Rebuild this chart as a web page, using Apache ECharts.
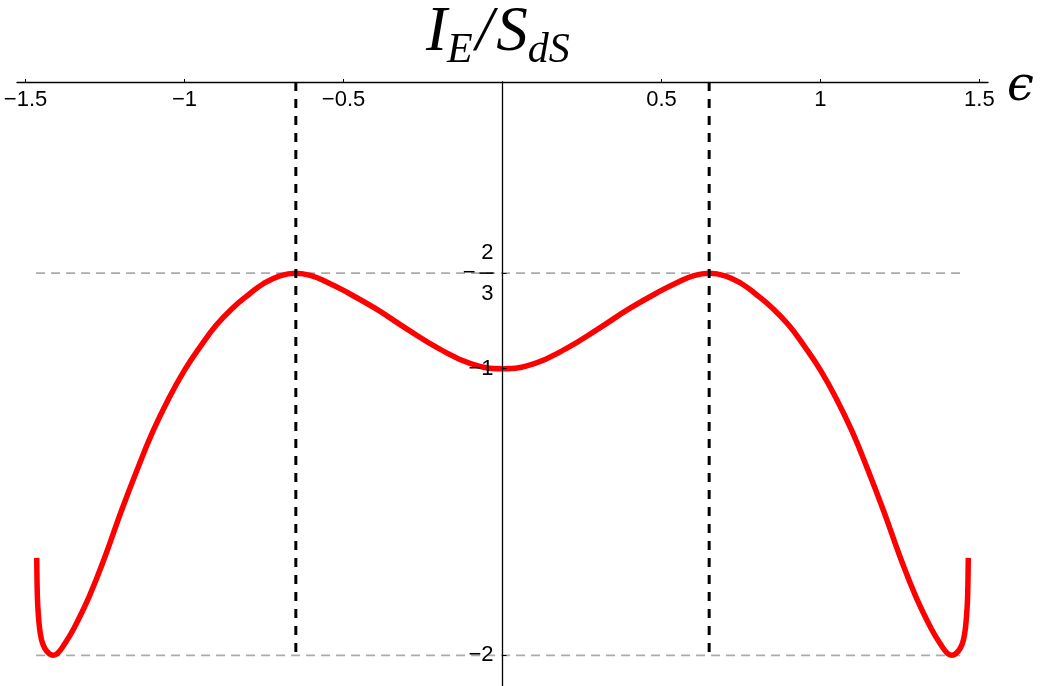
<!DOCTYPE html>
<html>
<head>
<meta charset="utf-8">
<script src="https://cdn.jsdelivr.net/npm/echarts@6/dist/echarts.min.js"></script>
<style>
html,body{margin:0;padding:0;background:#fff;}
#chart{width:1042px;height:686px;}
</style>
</head>
<body>
<div id="chart"></div>
<script>
// curve samples: epsilon and I_E/S_dS
var epsValues = [-1.465,-1.464,-1.462,-1.457,-1.450,-1.440,-1.425,-1.413,-1.400,-1.380,-1.350,-1.300,-1.250,-1.200,-1.150,-1.100,-1.050,-1.000,-0.950,-0.900,-0.850,-0.800,-0.750,-0.700,-0.650,-0.600,-0.550,-0.500,-0.400,-0.300,-0.200,-0.100,0.000,
                 0.100,0.200,0.300,0.400,0.500,0.550,0.600,0.650,0.700,0.750,0.800,0.850,0.900,0.950,1.000,1.050,1.100,1.150,1.200,1.250,1.300,1.350,1.380,1.400,1.413,1.425,1.440,1.450,1.457,1.462,1.464,1.465];
var ieValues  = [-1.660,-1.740,-1.820,-1.895,-1.945,-1.975,-1.995,-2.000,-1.994,-1.965,-1.910,-1.795,-1.655,-1.500,-1.355,-1.220,-1.105,-1.005,-0.922,-0.848,-0.790,-0.743,-0.702,-0.676,-0.667,-0.676,-0.699,-0.727,-0.790,-0.862,-0.930,-0.982,-1.000,
                 -0.982,-0.930,-0.862,-0.790,-0.727,-0.699,-0.676,-0.667,-0.676,-0.702,-0.743,-0.790,-0.848,-0.922,-1.005,-1.105,-1.220,-1.355,-1.500,-1.655,-1.795,-1.910,-1.965,-1.994,-2.000,-1.995,-1.975,-1.945,-1.895,-1.820,-1.740,-1.660];
// reference lines
var extremaEps = [-0.65, 0.65];          // vertical dashed lines
var vLineRange = [0, -2];
var hLineLevels = [-2/3, -2];            // horizontal gray dashed lines
var hLineRange = [-1.467, 1.44];
// ticks
var xTicks = [-1.5, -1, -0.5, 0.5, 1, 1.5];
var yTicks = [-2, -1, -2/3];
var xRange = [-1.527, 1.527];
var yRange = [-2.107, 0];

var curve = epsValues.map(function (e, i) { return [e, ieValues[i]]; });

function fmtNum(v) {
  var s = String(Math.round(v * 1000) / 1000);
  return s.replace('-', '\u2212');
}

var series = [];
hLineLevels.forEach(function (lv) {
  series.push({
    type: 'line', data: [[hLineRange[0], lv], [hLineRange[1], lv]],
    symbol: 'none', silent: true, z: 1,
    lineStyle: { color: '#ababab', width: 1.6, type: [9, 6] }
  });
});
series.push({
  type: 'line', data: curve, symbol: 'none', smooth: 0.45, z: 2,
  lineStyle: { color: '#ff0000', width: 5.5 }
});
extremaEps.forEach(function (e) {
  series.push({
    type: 'line', data: [[e, vLineRange[0]], [e, vLineRange[1]]],
    symbol: 'none', silent: true, z: 3,
    lineStyle: { color: '#000000', width: 3, type: [9, 8] }
  });
});

var GRID_LEFT = 17, GRID_RIGHT = 54;
var plotW = 1042 - GRID_LEFT - GRID_RIGHT;
var zeroOffset = plotW * (0 - xRange[0]) / (xRange[1] - xRange[0]);
var serifIt = { fontFamily: 'Liberation Serif', fontStyle: 'italic', fontWeight: 'normal', color: '#000' };

var chart = echarts.init(document.getElementById('chart'), null, { renderer: 'canvas' });
chart.setOption({
  animation: false,
  backgroundColor: '#ffffff',
  title: {
    left: 421, top: -10,
    text: '{m|I}{s|E}{sl|/}{m|S}{s|dS}',
    textStyle: {
      fontWeight: 'normal',
      rich: {
        m: Object.assign({ fontSize: 63 }, serifIt),
        sl: Object.assign({ fontSize: 63, padding: [0, 3, 0, 3] }, serifIt),
        s: Object.assign({ fontSize: 42, padding: [35, 0, 0, 0] }, serifIt)
      }
    }
  },
  grid: { left: GRID_LEFT, right: GRID_RIGHT, top: 82, bottom: 0, containLabel: false, outerBoundsMode: 'none' },
  xAxis: {
    type: 'value', min: xRange[0], max: xRange[1], position: 'top', z: 10,
    axisLine: { onZero: false, lineStyle: { color: '#000', width: 1.3 } },
    axisTick: { show: true, inside: false, length: 3, customValues: xTicks, lineStyle: { color: '#000', width: 1 } },
    axisLabel: { inside: true, customValues: xTicks, margin: 7, fontFamily: 'Liberation Sans', fontSize: 22, color: '#000', formatter: fmtNum },
    splitLine: { show: false },
    name: '{e|\u03f5}', nameLocation: 'end', nameGap: 19,
    nameTextStyle: {
      verticalAlign: 'middle',
      rich: { e: { fontFamily: 'DejaVu Serif', fontStyle: 'italic', fontSize: 48, color: '#000', padding: [12, 0, 0, 0] } }
    }
  },
  yAxis: {
    type: 'value', min: yRange[0], max: yRange[1], position: 'left', offset: -zeroOffset, z: 10,
    axisLine: { onZero: false, lineStyle: { color: '#000', width: 1.3 } },
    axisTick: { show: true, inside: true, length: 4, customValues: yTicks, lineStyle: { color: '#000', width: 1 } },
    axisLabel: {
      customValues: yTicks, margin: 9, fontFamily: 'Liberation Sans', fontSize: 22, color: '#000',
      formatter: function (v) {
        if (Math.abs(v + 2/3) < 1e-6) {
          return '{n|2}\n{mi|\u2212}{sp|}{bar|}\n{n|3}';
        }
        return fmtNum(v);
      },
      rich: {
        n: { fontFamily: 'Liberation Sans', fontSize: 22, lineHeight: 21, color: '#000', align: 'right' },
        mi: { fontFamily: 'Liberation Sans', fontSize: 22, lineHeight: 20, color: '#000' },
        sp: { width: 4, height: 2, lineHeight: 20 },
        bar: { width: 14, height: 1.6, lineHeight: 20, backgroundColor: '#000' }
      }
    },
    splitLine: { show: false }
  },
  series: series
});
</script>
</body>
</html>
